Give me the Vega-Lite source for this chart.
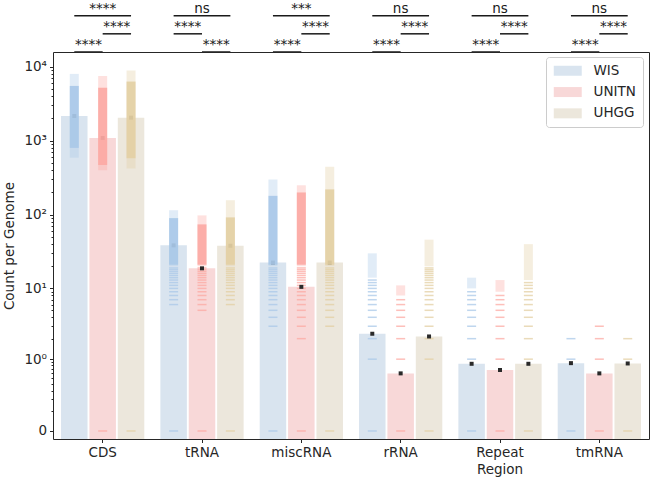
{
  "$schema": "https://vega.github.io/schema/vega-lite/v6.json",
  "background": "white",
  "padding": {"left": 1, "top": 0, "right": 2, "bottom": 0},
  "spacing": 0,
  "bounds": "flush",
  "config": {
    "font": "DejaVu Sans",
    "view": {"stroke": "#262626", "strokeWidth": 1},
    "scale": {"bandPaddingInner": 0, "bandPaddingOuter": 0, "bandWithNestedOffsetPaddingInner": 0, "bandWithNestedOffsetPaddingOuter": 0, "offsetBandPaddingInner": 0, "offsetBandPaddingOuter": 0.375},
    "axis": {"labelFont": "DejaVu Sans", "titleFont": "DejaVu Sans", "labelFontSize": 13.5, "titleFontSize": 13.5, "labelColor": "#262626", "titleColor": "#262626", "titleFontWeight": "normal", "tickColor": "#262626", "domain": false, "grid": false, "tickSize": 3.5, "tickWidth": 1}
  },
  "datasets": {
    "means": [
      {"c": "CDS", "s": "WIS", "y": 2160}, {"c": "CDS", "s": "UNITN", "y": 1090}, {"c": "CDS", "s": "UHGG", "y": 2050},
      {"c": "tRNA", "s": "WIS", "y": 38.5}, {"c": "tRNA", "s": "UNITN", "y": 18.8}, {"c": "tRNA", "s": "UHGG", "y": 38},
      {"c": "miscRNA", "s": "WIS", "y": 22.5}, {"c": "miscRNA", "s": "UNITN", "y": 10.5}, {"c": "miscRNA", "s": "UHGG", "y": 22.5},
      {"c": "rRNA", "s": "WIS", "y": 2.35}, {"c": "rRNA", "s": "UNITN", "y": 0.6}, {"c": "rRNA", "s": "UHGG", "y": 2.15},
      {"c": "Repeat Region", "s": "WIS", "y": 0.85}, {"c": "Repeat Region", "s": "UNITN", "y": 0.68}, {"c": "Repeat Region", "s": "UHGG", "y": 0.85},
      {"c": "tmRNA", "s": "WIS", "y": 0.87}, {"c": "tmRNA", "s": "UNITN", "y": 0.6}, {"c": "tmRNA", "s": "UHGG", "y": 0.86}
    ],
    "strips": [
      {"c": "CDS", "s": "WIS", "kind": "sparse", "y": 590, "hi": 8000}, {"c": "CDS", "s": "WIS", "kind": "dense", "y": 800, "hi": 5500},
      {"c": "CDS", "s": "UNITN", "kind": "sparse", "y": 400, "hi": 7500}, {"c": "CDS", "s": "UNITN", "kind": "dense", "y": 470, "hi": 5200},
      {"c": "CDS", "s": "UHGG", "kind": "sparse", "y": 420, "hi": 8900}, {"c": "CDS", "s": "UHGG", "kind": "dense", "y": 580, "hi": 6300},
      {"c": "tRNA", "s": "WIS", "kind": "sparse", "y": 20, "hi": 115}, {"c": "tRNA", "s": "WIS", "kind": "dense", "y": 21, "hi": 90},
      {"c": "tRNA", "s": "UNITN", "kind": "sparse", "y": 20, "hi": 98}, {"c": "tRNA", "s": "UNITN", "kind": "dense", "y": 21, "hi": 74},
      {"c": "tRNA", "s": "UHGG", "kind": "sparse", "y": 20, "hi": 157}, {"c": "tRNA", "s": "UHGG", "kind": "dense", "y": 21, "hi": 92},
      {"c": "miscRNA", "s": "WIS", "kind": "sparse", "y": 20, "hi": 300}, {"c": "miscRNA", "s": "WIS", "kind": "dense", "y": 21, "hi": 180},
      {"c": "miscRNA", "s": "UNITN", "kind": "sparse", "y": 20, "hi": 250}, {"c": "miscRNA", "s": "UNITN", "kind": "dense", "y": 21, "hi": 200},
      {"c": "miscRNA", "s": "UHGG", "kind": "sparse", "y": 20, "hi": 445}, {"c": "miscRNA", "s": "UHGG", "kind": "dense", "y": 21, "hi": 220},
      {"c": "rRNA", "s": "WIS", "kind": "sparse", "y": 14, "hi": 30},
      {"c": "rRNA", "s": "UNITN", "kind": "sparse", "y": 8, "hi": 11},
      {"c": "rRNA", "s": "UHGG", "kind": "sparse", "y": 20, "hi": 46},
      {"c": "Repeat Region", "s": "WIS", "kind": "sparse", "y": 10, "hi": 14},
      {"c": "Repeat Region", "s": "UNITN", "kind": "sparse", "y": 9, "hi": 13},
      {"c": "Repeat Region", "s": "UHGG", "kind": "sparse", "y": 13, "hi": 40}
    ],
    "dashes": [
      {"c": "CDS", "s": "UNITN", "vals": [0]},
      {"c": "CDS", "s": "UHGG", "vals": [0]},
      {"c": "tRNA", "s": "WIS", "vals": [0, 6, 7, 8, 9, 10, 11, 12, 13, 14, 15, 16, 17, 18, 19]},
      {"c": "tRNA", "s": "UNITN", "vals": [0, 5, 6, 7, 8, 9, 10, 11, 12, 13, 14, 15, 16, 17, 18, 19]},
      {"c": "tRNA", "s": "UHGG", "vals": [0, 6, 7, 8, 9, 10, 11, 12, 13, 14, 15, 16, 17, 18, 19]},
      {"c": "miscRNA", "s": "WIS", "vals": [0, 3, 4, 5, 6, 7, 8, 9, 10, 11, 12, 13, 14, 15, 16, 17, 18, 19]},
      {"c": "miscRNA", "s": "UNITN", "vals": [0, 2, 3, 4, 5, 6, 7, 8, 9, 10, 11, 12, 13, 14, 15, 16, 17, 18, 19]},
      {"c": "miscRNA", "s": "UHGG", "vals": [0, 3, 4, 5, 6, 7, 8, 9, 10, 11, 12, 13, 14, 15, 16, 17, 18, 19]},
      {"c": "rRNA", "s": "WIS", "vals": [0, 1, 2, 3, 4, 5, 6, 7, 8, 9, 10, 11, 12, 13]},
      {"c": "rRNA", "s": "UNITN", "vals": [0, 1, 2, 3, 4, 5, 6, 7]},
      {"c": "rRNA", "s": "UHGG", "vals": [0, 1, 2, 3, 4, 5, 6, 7, 8, 9, 10, 11, 12, 13, 14, 15, 16, 17, 18, 19]},
      {"c": "Repeat Region", "s": "WIS", "vals": [0, 1, 2, 3, 4, 5, 6, 7, 8, 9]},
      {"c": "Repeat Region", "s": "UNITN", "vals": [0, 1, 2, 3, 4, 5, 6, 7, 8]},
      {"c": "Repeat Region", "s": "UHGG", "vals": [0, 1, 2, 3, 4, 5, 6, 7, 8, 9, 10, 11, 12]},
      {"c": "tmRNA", "s": "WIS", "vals": [0, 1, 2]},
      {"c": "tmRNA", "s": "UNITN", "vals": [0, 1, 2, 3]},
      {"c": "tmRNA", "s": "UHGG", "vals": [0, 1, 2]}
    ],
    "brackets": [
      {"c": "CDS", "from": "WIS", "to": "UHGG", "mid": "UNITN", "level": 3, "label": "****"},
      {"c": "CDS", "from": "UNITN", "to": "UHGG", "mid": "UNITN-UHGG", "level": 2, "label": "****"},
      {"c": "CDS", "from": "WIS", "to": "UNITN", "mid": "WIS-UNITN", "level": 1, "label": "****"},
      {"c": "tRNA", "from": "WIS", "to": "UHGG", "mid": "UNITN", "level": 3, "label": "ns"},
      {"c": "tRNA", "from": "WIS", "to": "UNITN", "mid": "WIS-UNITN", "level": 2, "label": "****"},
      {"c": "tRNA", "from": "UNITN", "to": "UHGG", "mid": "UNITN-UHGG", "level": 1, "label": "****"},
      {"c": "miscRNA", "from": "WIS", "to": "UHGG", "mid": "UNITN", "level": 3, "label": "***"},
      {"c": "miscRNA", "from": "UNITN", "to": "UHGG", "mid": "UNITN-UHGG", "level": 2, "label": "****"},
      {"c": "miscRNA", "from": "WIS", "to": "UNITN", "mid": "WIS-UNITN", "level": 1, "label": "****"},
      {"c": "rRNA", "from": "WIS", "to": "UHGG", "mid": "UNITN", "level": 3, "label": "ns"},
      {"c": "rRNA", "from": "UNITN", "to": "UHGG", "mid": "UNITN-UHGG", "level": 2, "label": "****"},
      {"c": "rRNA", "from": "WIS", "to": "UNITN", "mid": "WIS-UNITN", "level": 1, "label": "****"},
      {"c": "Repeat Region", "from": "WIS", "to": "UHGG", "mid": "UNITN", "level": 3, "label": "ns"},
      {"c": "Repeat Region", "from": "UNITN", "to": "UHGG", "mid": "UNITN-UHGG", "level": 2, "label": "****"},
      {"c": "Repeat Region", "from": "WIS", "to": "UNITN", "mid": "WIS-UNITN", "level": 1, "label": "****"},
      {"c": "tmRNA", "from": "WIS", "to": "UHGG", "mid": "UNITN", "level": 3, "label": "ns"},
      {"c": "tmRNA", "from": "UNITN", "to": "UHGG", "mid": "UNITN-UHGG", "level": 2, "label": "****"},
      {"c": "tmRNA", "from": "WIS", "to": "UNITN", "mid": "WIS-UNITN", "level": 1, "label": "****"}
    ]
  },
  "vconcat": [
    {
      "width": 596,
      "height": 52,
      "view": {"stroke": null},
      "data": {"name": "brackets"},
      "encoding": {
        "x": {"field": "c", "type": "nominal", "sort": null, "scale": {"type": "band", "domain": ["CDS", "tRNA", "miscRNA", "rRNA", "Repeat Region", "tmRNA"], "paddingInner": 0, "paddingOuter": 0}, "axis": null},
        "y": {"field": "level", "type": "quantitative", "scale": {"domain": [1, 3.86], "nice": false, "zero": false}, "axis": null}
      },
      "layer": [
        {
          "transform": [{"fold": ["from", "to"], "as": ["end", "pos"]}],
          "mark": {"type": "line", "color": "#1a1a1a", "strokeWidth": 1.5},
          "encoding": {
            "xOffset": {"field": "pos", "type": "nominal", "scale": {"type": "band", "domain": ["WIS", "WIS-UNITN", "UNITN", "UNITN-UHGG", "UHGG"], "paddingInner": 0, "paddingOuter": 1.25}},
            "detail": [{"field": "c"}, {"field": "level"}]
          }
        },
        {
          "mark": {"type": "text", "fontSize": 13.5, "baseline": "alphabetic", "dy": -3, "color": "#1a1a1a"},
          "encoding": {
            "xOffset": {"field": "mid", "type": "nominal", "scale": {"type": "band", "domain": ["WIS", "WIS-UNITN", "UNITN", "UNITN-UHGG", "UHGG"], "paddingInner": 0, "paddingOuter": 1.25}},
            "text": {"field": "label"}
          }
        }
      ]
    },
    {
      "width": 596,
      "height": 387,
      "encoding": {
        "x": {"field": "c", "type": "nominal", "sort": null, "scale": {"type": "band", "domain": ["CDS", "tRNA", "miscRNA", "rRNA", "Repeat Region", "tmRNA"], "paddingInner": 0, "paddingOuter": 0},
              "axis": {"title": null, "labelAngle": 0, "labelExpr": "datum.value == 'Repeat Region' ? ['Repeat', 'Region'] : datum.value", "labelLineHeight": 17, "labelPadding": 3}},
        "xOffset": {"field": "s", "type": "nominal", "scale": {"type": "band", "domain": ["WIS", "UNITN", "UHGG"], "paddingInner": 0, "paddingOuter": 0.375}},
        "y": {"field": "y", "type": "quantitative", "title": "Count per Genome",
              "scale": {"type": "symlog", "constant": 0.12, "domain": [-0.034, 15800], "nice": false, "zero": false},
              "axis": {"titleX": -44, "titleBaseline": "middle", "titleAngle": 270, "labelPadding": 3, "labelOverlap": false, "labelBound": false, "labelFlush": false,
                       "values": [0, 0.1, 0.2, 0.3, 0.4, 0.5, 0.6, 0.7, 0.8, 0.9, 1, 2, 3, 4, 5, 6, 7, 8, 9, 10, 20, 30, 40, 50, 60, 70, 80, 90, 100, 200, 300, 400, 500, 600, 700, 800, 900, 1000, 2000, 3000, 4000, 5000, 6000, 7000, 8000, 9000, 10000],
                       "labelExpr": "datum.value == 0 ? '0' : datum.value == 1 ? '10⁰' : datum.value == 10 ? '10¹' : datum.value == 100 ? '10²' : datum.value == 1000 ? '10³' : datum.value == 10000 ? '10⁴' : ''",
                       "tickSize": {"condition": {"test": "datum.value == 0 || datum.value == 1 || datum.value == 10 || datum.value == 100 || datum.value == 1000 || datum.value == 10000", "value": 3.5}, "value": 2}}}
      },
      "layer": [
        {
          "data": {"name": "means"},
          "mark": {"type": "bar", "width": 26.5},
          "encoding": {
            "y2": {"datum": -0.034},
            "fill": {"field": "s", "type": "nominal", "scale": {"domain": ["WIS", "UNITN", "UHGG"], "range": ["#d9e4ef", "#f8d8d8", "#ece7dc"]},
                     "legend": {"orient": "none", "legendX": 493, "legendY": 57, "title": null, "symbolType": "M-2.8,-1H2.8V1H-2.8Z", "symbolSize": 100, "symbolStrokeWidth": 0, "labelFontSize": 13.5, "labelColor": "#262626", "labelOffset": 19, "rowPadding": 6.3, "padding": 7, "symbolOffset": 8, "strokeColor": "#cccccc", "fillColor": "rgba(255,255,255,0.8)", "cornerRadius": 3}}
          }
        },
        {
          "data": {"name": "dashes"},
          "transform": [{"flatten": ["vals"], "as": ["y"]}],
          "mark": {"type": "tick", "orient": "horizontal", "size": 9, "thickness": 1.5, "opacity": 0.75},
          "encoding": {
            "color": {"field": "s", "type": "nominal", "scale": {"domain": ["WIS", "UNITN", "UHGG"], "range": ["#a9c8e8", "#fca9a3", "#e3cfa3"]}, "legend": null}
          }
        },
        {
          "data": {"name": "means"},
          "mark": {"type": "square", "size": 16, "color": "#2a2a2a", "opacity": 1}
        },
        {
          "data": {"name": "strips"},
          "mark": {"type": "bar", "width": 9},
          "encoding": {
            "y2": {"field": "hi"},
            "color": {"field": "s", "type": "nominal", "scale": {"domain": ["WIS", "UNITN", "UHGG"], "range": ["#a9c8e8", "#fca9a3", "#e3cfa3"]}, "legend": null},
            "opacity": {"field": "kind", "type": "nominal", "scale": {"domain": ["dense", "sparse"], "range": [0.9, 0.35]}, "legend": null}
          }
        }
      ]
    }
  ]
}
